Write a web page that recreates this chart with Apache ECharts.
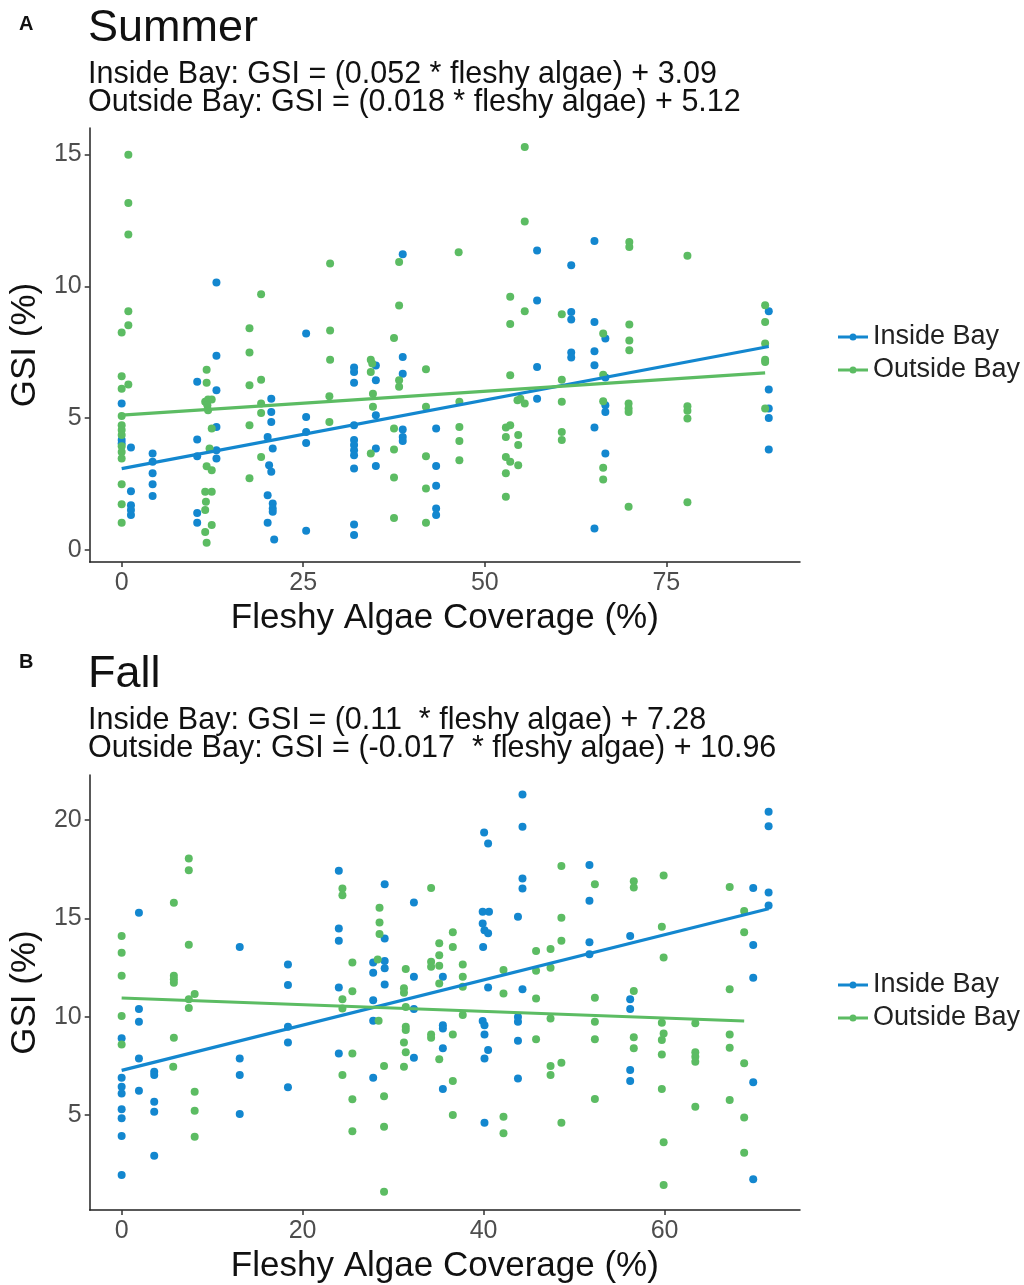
<!DOCTYPE html>
<html>
<head>
<meta charset="utf-8">
<script src="https://cdn.jsdelivr.net/npm/echarts@6/dist/echarts.min.js"></script>
<style>
html,body{margin:0;padding:0;background:#fff;}
#chart{width:1024px;height:1285px;}
</style>
</head>
<body>
<div id="chart"></div>
<script>
// ---------- DATA ----------
const summerXTicks = [0, 25, 50, 75];
const summerYTicks = [0, 5, 10, 15];
const fallXTicks = [0, 20, 40, 60];
const fallYTicks = [5, 10, 15, 20];

const summerInside = [
  [0,5.56],[0,4.17],[0,4.04],[1.28,3.89],[1.28,2.23],[1.28,1.70],[1.28,1.52],[1.28,1.33],
  [4.26,3.66],[4.26,3.35],[4.26,2.91],[4.26,2.50],[4.26,2.05],
  [10.4,6.38],[10.4,4.19],[10.4,3.56],[10.4,1.41],[10.4,1.04],
  [13.05,10.14],[13.05,7.37],[13.05,6.06],[13.05,4.67],[13.05,3.79],[13.05,3.47],
  [20.6,5.74],[20.6,5.24],[20.6,4.86],[20.1,4.29],[20.8,3.85],[20.3,3.22],[20.6,2.97],
  [20.1,2.08],[20.8,1.77],[20.8,1.58],[20.8,1.45],[20.1,1.04],[21.0,0.40],
  [25.4,8.21],[25.4,5.05],[25.4,4.48],[25.4,4.06],[25.4,0.73],
  [32.0,6.92],[32.0,6.75],[32.0,6.34],[32.0,4.73],[32.0,4.17],[32.0,3.98],[32.0,3.79],[32.0,3.60],[32.0,3.09],[32.0,0.97],[32.0,0.57],
  [35.0,7.0],[35.0,6.44],[35.0,5.11],[35.0,3.85],[35.0,3.19],
  [38.7,11.21],[38.7,7.32],[38.7,6.69],[38.7,4.57],[38.7,4.29],[38.7,4.14],
  [43.3,4.61],[43.3,3.19],[43.3,2.44],[43.3,1.58],[43.3,1.33],
  [57.2,11.36],[57.2,9.46],[57.2,6.94],[57.2,5.74],
  [61.9,10.80],[61.9,9.03],[61.9,8.74],[61.9,7.49],[61.9,7.3],
  [65.1,11.72],[65.1,8.65],[65.1,7.54],[65.1,7.01],[65.1,4.65],[65.1,0.82],
  [66.6,8.02],[66.6,6.54],[66.6,5.49],[66.6,5.24],[66.6,3.66],
  [89.1,9.05],[89.1,6.09],[89.1,5.37],[89.1,5.01],[89.1,3.81]
];
const summerOutside = [
  [0.92,14.99],[0.92,13.16],[0.92,11.96],[0.92,9.05],[0.92,8.52],[0,8.25],
  [0,6.59],[0.92,6.28],[0,6.12],[0,5.08],[0,4.73],[0,4.55],[0,4.36],[0,3.94],[0,3.72],[0,3.47],[0,2.5],[0,1.74],[0,1.04],
  [11.7,6.84],[11.7,6.34],[11.5,5.62],[11.9,5.71],[12.4,5.71],[11.8,5.49],[11.9,5.30],[12.4,4.61],[12.1,3.85],[11.7,3.18],[12.4,3.03],[11.5,2.21],[12.4,2.21],[11.6,1.83],[11.5,1.52],[12.4,0.95],[11.5,0.69],[11.7,0.28],
  [17.6,8.41],[17.6,7.49],[17.6,6.25],[17.6,4.73],[17.6,2.72],
  [19.2,9.70],[19.2,6.46],[19.2,5.56],[19.2,5.2],[19.2,3.53],
  [28.7,10.86],[28.7,8.32],[28.7,7.22],[28.6,5.83],[28.6,4.86],
  [34.3,7.22],[34.5,7.07],[34.3,6.75],[34.6,5.93],[34.6,5.43],[34.3,3.66],
  [37.5,8.04],[37.5,4.61],[37.5,3.81],[37.5,2.75],[37.5,1.22],
  [38.2,10.92],[38.2,9.27],[38.2,6.44],[38.2,6.19],
  [41.9,6.86],[41.9,5.43],[41.9,3.56],[41.9,2.34],[41.9,1.04],
  [46.4,11.29],[46.5,5.62],[46.5,4.67],[46.5,4.14],[46.5,3.41],
  [52.9,4.65],[53.5,4.73],[52.9,4.29],[52.9,3.53],[53.5,3.35],[52.9,2.91],[52.9,2.02],[53.5,9.60],[53.5,8.57],[53.5,6.63],
  [54.6,4.36],[54.6,3.98],[54.6,3.22],[54.5,5.68],[54.9,5.74],[55.5,5.56],[55.5,15.28],[55.5,12.46],[55.5,9.05],
  [60.6,8.94],[60.6,6.46],[60.6,5.62],[60.6,4.48],[60.6,4.17],
  [66.3,8.21],[66.3,6.65],[66.3,5.64],[66.3,3.12],[66.3,2.68],
  [69.9,11.68],[69.9,11.49],[69.9,8.55],[69.9,7.95],[69.9,7.58],[69.8,5.56],[69.8,5.37],[69.8,5.24],[69.8,1.64],
  [77.9,11.16],[77.9,5.45],[77.9,5.28],[77.9,4.99],[77.9,1.81],
  [88.6,9.28],[88.6,8.65],[88.6,7.83],[88.6,7.22],[88.6,7.13],[88.6,5.37]
];
const fallInside = [
  [0,8.91],[0,6.9],[0,6.45],[0,6.11],[0,5.3],[0,4.84],[0,3.94],[0,1.96],
  [1.91,15.29],[1.91,10.4],[1.91,9.75],[1.91,7.89],[1.91,6.24],
  [3.6,7.21],[3.6,7.04],[3.6,5.69],[3.6,5.18],[3.6,2.94],
  [13.05,13.56],[13.05,7.89],[13.05,7.04],[13.05,5.06],
  [18.38,12.67],[18.38,11.62],[18.38,9.5],[18.38,8.7],[18.38,6.42],
  [24,17.43],[24,14.5],[24,13.87],[24,11.5],[24,8.14],
  [27.8,12.77],[27.8,12.24],[27.8,10.85],[27.8,9.8],[27.8,6.9],
  [29.07,16.75],[29.07,13.99],[29.07,12.84],[29.07,12.47],[29.07,11.65],
  [32.3,15.82],[32.3,12.04],[32.3,10.4],[32.3,7.92],
  [35.5,12.04],[35.5,9.58],[35.5,9.41],[35.5,8.4],[35.5,6.33],
  [40.06,19.38],[40.5,18.82],[39.9,15.34],[40.6,15.34],[39.9,14.75],[40.1,14.41],[40.5,14.25],[39.95,13.56],[40.5,11.5],[39.9,9.79],[40.1,9.58],[40.1,9.11],[40.5,8.31],[40.1,7.89],[40.1,4.62],
  [44.3,21.31],[44.3,19.67],[44.3,17.04],[44.3,16.53],[43.8,15.09],[44.3,11.41],[43.8,10.0],[43.8,9.75],[43.8,8.79],[43.8,6.87],
  [51.7,17.72],[51.7,15.9],[51.7,13.8],[51.7,13.18],
  [56.2,14.11],[56.2,10.9],[56.2,10.4],[56.2,7.3],[56.2,6.74],
  [69.8,16.56],[69.8,13.65],[69.8,11.99],[69.8,6.67],[69.8,1.74],
  [71.5,20.43],[71.5,19.7],[71.5,16.33],[71.5,15.67]
];
const fallOutside = [
  [0,14.11],[0,13.26],[0,12.09],[0,10.04],[0,8.6],
  [5.77,15.8],[5.77,12.09],[5.77,11.91],[5.77,11.73],[5.77,8.94],[5.7,7.46],
  [7.42,18.06],[7.42,17.46],[7.42,13.67],[8.07,11.16],[7.42,10.9],[7.42,10.45],[8.07,6.19],[8.07,5.23],[8.07,3.91],
  [24.4,16.53],[24.4,16.19],[24.4,10.9],[24.4,10.43],[24.4,7.04],
  [25.5,12.77],[25.5,11.3],[25.5,8.14],[25.5,5.81],[25.5,4.19],
  [28.5,15.55],[28.5,14.8],[28.5,14.21],[28.3,12.92],[28.4,9.8],[29,7.5],[29,5.97],[29,4.41],[29,1.11],
  [31.4,12.43],[31.2,11.45],[31.2,11.23],[31.4,10.5],[31.4,9.5],[31.4,9.33],[31.2,8.7],[31.4,8.2],[31.2,7.46],
  [34.2,16.56],[34.2,12.8],[34.2,12.55],[34.2,9.11],[34.2,8.94],
  [35.1,13.74],[35.1,13.14],[35.1,12.6],[35.1,11.7],[35.1,7.84],
  [36.6,14.3],[36.6,13.56],[36.6,9.11],[36.6,6.74],[36.6,5.01],
  [37.7,12.67],[37.7,12.04],[37.7,11.53],[37.7,10.09],
  [42.2,12.38],[42.2,11.19],[42.2,4.92],[42.2,4.08],
  [45.8,13.35],[45.8,12.34],[45.8,10.94],[45.8,8.86],
  [47.4,13.45],[47.4,12.5],[47.4,9.92],[47.4,7.5],[47.4,7.04],
  [48.6,17.67],[48.6,15.04],[48.6,13.87],[48.6,7.67],[48.6,4.62],
  [52.3,16.75],[52.3,10.97],[52.3,9.75],[52.3,8.86],[52.3,5.82],
  [56.6,16.9],[56.6,16.58],[56.6,11.31],[56.6,8.96],[56.6,8.4],
  [59.9,17.19],[59.7,14.58],[59.9,13.02],[59.7,9.7],[59.9,9.16],[59.7,8.82],[59.7,8.09],[59.7,6.33],[59.9,3.62],[59.9,1.45],
  [63.4,9.67],[63.4,8.2],[63.4,7.97],[63.4,7.72],[63.4,5.43],
  [67.2,16.61],[67.2,11.41],[67.2,9.11],[67.2,8.43],[67.2,5.77],
  [68.8,15.39],[68.8,14.3],[68.8,7.64],[68.8,4.89],[68.8,3.09]
];

// fitted lines (endpoints)
const summerInsideFit = [[0,3.09],[89.1,7.72]];
const summerOutsideFit = [[0,5.12],[88.6,6.72]];
const fallInsideFit = [[0,7.28],[71.5,15.5]];
const fallOutsideFit = [[0,10.96],[68.8,9.79]];

const seriesNames = ['Inside Bay', 'Outside Bay'];
const summerTitle = 'Summer';
const fallTitle = 'Fall';
const summerEq = ['Inside Bay: GSI = (0.052 * fleshy algae) + 3.09', 'Outside Bay: GSI = (0.018 * fleshy algae) + 5.12'];
const fallEq = ['Inside Bay: GSI = (0.11  * fleshy algae) + 7.28', 'Outside Bay: GSI = (-0.017  * fleshy algae) + 10.96'];

// ---------- STYLE ----------
const BLUE = '#1387cf';
const GREEN = '#5cbc63';
const FONT = '"Liberation Sans", Arial, Helvetica, sans-serif';
const legendIcon = 'path://M0,3.5L30,3.5L30,6.5L0,6.5Z M11.5,5a3.5,3.5 0 1,1 7,0a3.5,3.5 0 1,1 -7,0Z';

function xAxisCfg(gridIndex, min, max, ticks) {
  return {
    type: 'value', gridIndex, min, max,
    name: 'Fleshy Algae Coverage (%)', nameLocation: 'middle', nameGap: 39,
    nameTextStyle: { fontSize: 35, color: '#111', fontFamily: FONT },
    axisLine: { show: true, onZero: false, lineStyle: { color: '#222', width: 1.5 } },
    axisTick: { show: true, length: 5, customValues: ticks, lineStyle: { color: '#333', width: 1.5 } },
    axisLabel: { customValues: ticks, fontSize: 25, color: '#4d4d4d', margin: 9, fontFamily: FONT },
    splitLine: { show: false }
  };
}
function yAxisCfg(gridIndex, min, max, ticks) {
  return {
    type: 'value', gridIndex, min, max,
    name: 'GSI (%)', nameLocation: 'middle', nameGap: 36, nameRotate: 90,
    nameTextStyle: { fontSize: 35, color: '#111', fontFamily: FONT },
    axisLine: { show: true, onZero: false, lineStyle: { color: '#222', width: 1.5 } },
    axisTick: { show: true, length: 5, customValues: ticks, lineStyle: { color: '#333', width: 1.5 } },
    axisLabel: { customValues: ticks, fontSize: 25, color: '#4d4d4d', margin: 8, fontFamily: FONT },
    splitLine: { show: false }
  };
}
function scatter(name, data, color, idx) {
  return { type: 'scatter', name, data, xAxisIndex: idx, yAxisIndex: idx, symbolSize: 8,
    itemStyle: { color, opacity: 1 }, emphasis: { disabled: true }, z: 2 };
}
function fit(name, data, color, idx) {
  return { type: 'line', name, data, xAxisIndex: idx, yAxisIndex: idx, showSymbol: false, symbol: 'none',
    lineStyle: { color, width: 3.2 }, itemStyle: { color }, emphasis: { disabled: true }, z: 3 };
}
function legendCfg(top) {
  return { orient: 'vertical', left: 838, top, data: seriesNames, icon: legendIcon,
    itemWidth: 30, itemHeight: 7, itemGap: 3, padding: 0,
    textStyle: { fontSize: 27, color: '#222', fontFamily: FONT, lineHeight: 30 }, selectedMode: false };
}

const option = {
  animation: false,
  backgroundColor: '#fff',
  textStyle: { fontFamily: FONT },
  title: [
    { text: 'A', left: 19, top: 14, padding: 0, textStyle: { fontSize: 20, fontWeight: 'bold', color: '#111', fontFamily: FONT } },
    { text: summerTitle, left: 88, top: 6, padding: 0, textStyle: { fontSize: 45, fontWeight: 'normal', color: '#111', fontFamily: FONT } },
    { text: summerEq.join('\n'), left: 88, top: 61, padding: 0, textStyle: { fontSize: 30.5, fontWeight: 'normal', color: '#111', lineHeight: 28, fontFamily: FONT } },
    { text: 'B', left: 19, top: 652, padding: 0, textStyle: { fontSize: 20, fontWeight: 'bold', color: '#111', fontFamily: FONT } },
    { text: fallTitle, left: 88, top: 652, padding: 0, textStyle: { fontSize: 45, fontWeight: 'normal', color: '#111', fontFamily: FONT } },
    { text: fallEq.join('\n'), left: 88, top: 707, padding: 0, textStyle: { fontSize: 30.5, fontWeight: 'normal', color: '#111', lineHeight: 28, fontFamily: FONT } }
  ],
  legend: [legendCfg(322), legendCfg(970)],
  grid: [
    { left: 88, top: 128, width: 712, height: 434 },
    { left: 88, top: 775, width: 712, height: 435 }
  ],
  xAxis: [xAxisCfg(0, -4.4, 93.4, summerXTicks), xAxisCfg(1, -3.53, 74.97, fallXTicks)],
  yAxis: [yAxisCfg(0, -0.45, 16.0, summerYTicks), yAxisCfg(1, 0.18, 22.3, fallYTicks)],
  series: [
    scatter(seriesNames[0], summerInside, BLUE, 0),
    scatter(seriesNames[1], summerOutside, GREEN, 0),
    fit('Inside Bay fit', summerInsideFit, BLUE, 0),
    fit('Outside Bay fit', summerOutsideFit, GREEN, 0),
    scatter(seriesNames[0], fallInside, BLUE, 1),
    scatter(seriesNames[1], fallOutside, GREEN, 1),
    fit('Inside Bay fit', fallInsideFit, BLUE, 1),
    fit('Outside Bay fit', fallOutsideFit, GREEN, 1)
  ]
};

const chart = echarts.init(document.getElementById('chart'), null, { renderer: 'canvas' });
chart.setOption(option);
</script>
</body>
</html>
